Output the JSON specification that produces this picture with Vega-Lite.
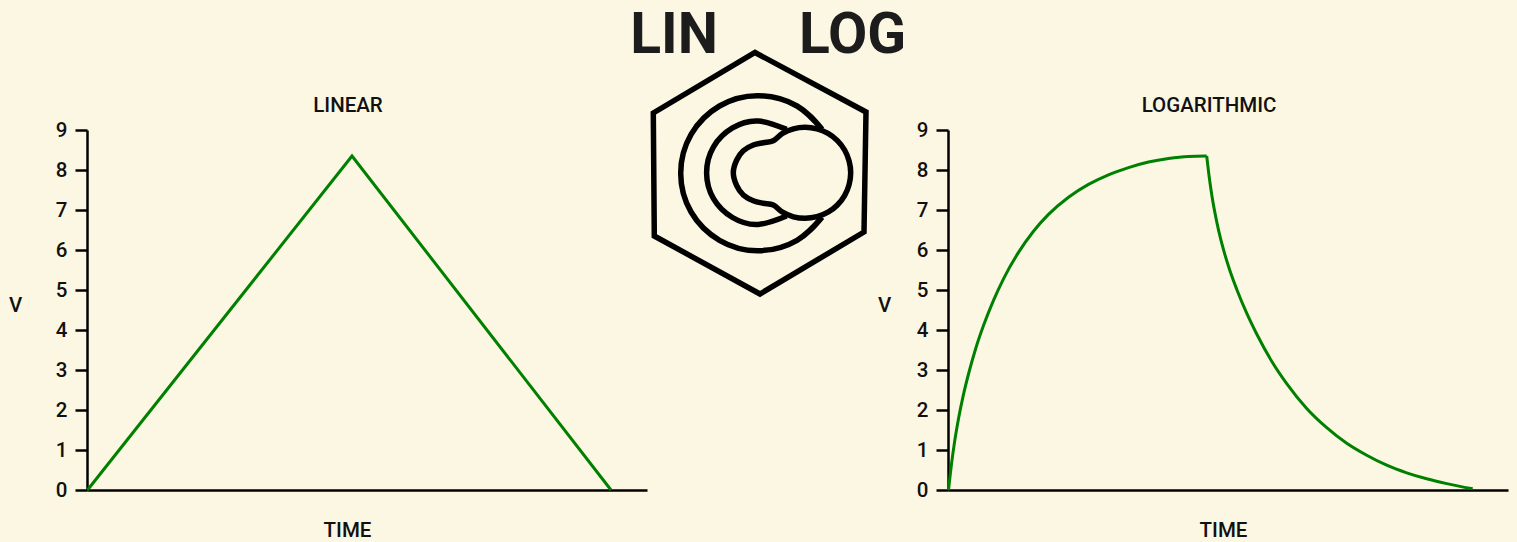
{
"$schema":"https://vega.github.io/schema/vega-lite/v6.json",
"background":"#fcf7e3",
"padding":{"left":8,"top":7,"right":10,"bottom":3},
"spacing":0,
"bounds":"flush",
"config":{
"view":{"stroke":null},
"font":"Roboto",
"title":{"fontSize":20.5,"fontWeight":500,"color":"#111111","font":"Roboto"},
"axis":{"grid":false,"domainColor":"#000000","domainWidth":2.5,"tickColor":"#000000","tickWidth":2.5,"tickSize":12,"labelFontSize":20.5,"labelFontWeight":500,"labelColor":"#111111","labelPadding":8,"titleFontSize":20.5,"titleFontWeight":500,"titleColor":"#111111","labelFont":"Roboto","titleFont":"Roboto"}
},
"datasets":{
"linear":[{"time":0.5,"v":0},{"time":265,"v":8.35},{"time":524,"v":0}],
"log":[{"p":"rise","time":0.5,"v":0},{"p":"rise","time":3.5,"v":0.65},{"p":"rise","time":6.5,"v":1.19},{"p":"rise","time":10.5,"v":1.78},{"p":"rise","time":15.5,"v":2.39},{"p":"rise","time":20.5,"v":2.9},{"p":"rise","time":27.5,"v":3.52},{"p":"rise","time":35.5,"v":4.11},{"p":"rise","time":45.5,"v":4.74},{"p":"rise","time":55.5,"v":5.28},{"p":"rise","time":70.5,"v":5.94},{"p":"rise","time":85.5,"v":6.47},{"p":"rise","time":100.5,"v":6.89},{"p":"rise","time":120.5,"v":7.32},{"p":"rise","time":140.5,"v":7.64},{"p":"rise","time":160.5,"v":7.88},{"p":"rise","time":180.5,"v":8.06},{"p":"rise","time":200.5,"v":8.2},{"p":"rise","time":220.5,"v":8.29},{"p":"rise","time":240.5,"v":8.34},{"p":"rise","time":258.7,"v":8.35},
{"p":"fall","time":258.7,"v":8.35},{"p":"fall","time":260.7,"v":7.92},{"p":"fall","time":263.7,"v":7.39},{"p":"fall","time":266.7,"v":6.96},{"p":"fall","time":270.7,"v":6.48},{"p":"fall","time":275.7,"v":5.99},{"p":"fall","time":281.7,"v":5.5},{"p":"fall","time":288.7,"v":5.02},{"p":"fall","time":298.7,"v":4.42},{"p":"fall","time":308.7,"v":3.9},{"p":"fall","time":323.7,"v":3.22},{"p":"fall","time":338.7,"v":2.66},{"p":"fall","time":358.7,"v":2.04},{"p":"fall","time":378.7,"v":1.56},{"p":"fall","time":398.7,"v":1.17},{"p":"fall","time":418.7,"v":0.87},{"p":"fall","time":438.7,"v":0.62},{"p":"fall","time":458.7,"v":0.43},{"p":"fall","time":478.7,"v":0.28},{"p":"fall","time":498.7,"v":0.16},{"p":"fall","time":524.7,"v":0.03}],
"hex":[{"u":108,"w":437.5,"o":0},{"u":219,"w":378,"o":1},{"u":217,"w":258,"o":2},{"u":113,"w":196,"o":3},{"u":7.3,"w":254,"o":4},{"u":6.3,"w":377,"o":5}],
"arcs":[
{"s":"a","o":0,"u":175.1,"w":360.7},{"s":"a","o":1,"u":150,"w":384},{"s":"a","o":2,"u":111.2,"w":394.3},{"s":"a","o":3,"u":72.5,"w":384},{"s":"a","o":4,"u":44.1,"w":355.6},{"s":"a","o":5,"u":33.7,"w":316.8},{"s":"a","o":6,"u":44.1,"w":278},{"s":"a","o":7,"u":72.5,"w":249.7},{"s":"a","o":8,"u":111.2,"w":239.3},{"s":"a","o":9,"u":150,"w":249.7},{"s":"a","o":10,"u":175.1,"w":272.9},
{"s":"b","o":0,"u":139.6,"w":360.6},{"s":"b","o":1,"u":111.3,"w":369},{"s":"b","o":2,"u":85.5,"w":362.1},{"s":"b","o":3,"u":66.5,"w":343.2},{"s":"b","o":4,"u":59.6,"w":317.3},{"s":"b","o":5,"u":66.5,"w":291.4},{"s":"b","o":6,"u":85.5,"w":272.5},{"s":"b","o":7,"u":111.3,"w":265.6},{"s":"b","o":8,"u":139.6,"w":274}
],
"toggle":[
{"o":0,"u":135.5,"w":356.6},{"o":1,"u":146.4,"w":361.2},{"o":2,"u":158.2,"w":362.7},{"o":3,"u":170,"w":361.1},{"o":4,"u":181,"w":356.6},{"o":5,"u":190.4,"w":349.4},{"o":6,"u":197.6,"w":340},{"o":7,"u":202.1,"w":329},{"o":8,"u":203.7,"w":317.2},{"o":9,"u":202.1,"w":305.4},{"o":10,"u":197.6,"w":294.4},{"o":11,"u":190.4,"w":285},{"o":12,"u":181,"w":277.8},{"o":13,"u":170,"w":273.3},{"o":14,"u":158.2,"w":271.7},{"o":15,"u":146.4,"w":273.2},{"o":16,"u":135.5,"w":277.8},{"o":17,"u":126.3,"w":285},{"o":18,"u":116.3,"w":286.7},{"o":19,"u":106.3,"w":289.3},{"o":20,"u":96.3,"w":295},{"o":21,"u":89.7,"w":304.3},{"o":22,"u":86.3,"w":317.3},{"o":23,"u":89.7,"w":330},{"o":24,"u":96.3,"w":339.3},{"o":25,"u":106.3,"w":345},{"o":26,"u":116.3,"w":347.3},{"o":27,"u":126.3,"w":349.3}
],
"words":[{"label":"LIN","u":27,"w":437},{"label":"LOG","u":205.5,"w":437}]
},
"hconcat":[
{"width":560,"height":360,"title":{"text":"LINEAR","anchor":"middle","dx":-19,"offset":4},
"data":{"name":"linear"},
"mark":{"type":"line","color":"#008000","strokeWidth":3,"clip":false},
"encoding":{
"x":{"field":"time","type":"quantitative","scale":{"domain":[0,560],"nice":false},"axis":{"title":"TIME","ticks":false,"labels":false,"titleX":260,"titleY":40,"titleBaseline":"middle"}},
"y":{"field":"v","type":"quantitative","scale":{"domain":[0,9],"nice":false},"axis":{"title":"V","titleAngle":0,"titleX":-72,"titleY":175,"titleBaseline":"middle","values":[0,1,2,3,4,5,6,7,8,9]}}
}},
{"width":301,"height":360,
"layer":[
{"data":{"name":"hex"},"mark":{"type":"line","interpolate":"linear-closed","color":"#000000","strokeWidth":5.5,"clip":false},"encoding":{"x":{"field":"u","type":"quantitative","scale":{"domain":[0,301],"nice":false},"axis":null},"y":{"field":"w","type":"quantitative","scale":{"domain":[0,360],"nice":false},"axis":null},"order":{"field":"o"}}},
{"data":{"name":"arcs"},"mark":{"type":"line","interpolate":"natural","color":"#000000","strokeWidth":5.5,"clip":false},"encoding":{"x":{"field":"u","type":"quantitative"},"y":{"field":"w","type":"quantitative"},"detail":{"field":"s"},"order":{"field":"o"}}},
{"data":{"name":"toggle"},"mark":{"type":"line","interpolate":"cardinal-closed","color":"#000000","strokeWidth":5.5,"clip":false},"encoding":{"x":{"field":"u","type":"quantitative"},"y":{"field":"w","type":"quantitative"},"order":{"field":"o"}}},
{"data":{"name":"words"},"mark":{"type":"text","font":"Roboto","fontWeight":"bold","fontSize":57,"color":"#1c1c1c","align":"center","baseline":"alphabetic","clip":false},"encoding":{"x":{"field":"u","type":"quantitative"},"y":{"field":"w","type":"quantitative"},"text":{"field":"label"}}}
]},
{"width":560,"height":360,"title":{"text":"LOGARITHMIC","anchor":"middle","dx":-19,"offset":4},
"data":{"name":"log"},
"mark":{"type":"line","color":"#008000","strokeWidth":3,"interpolate":"monotone","clip":false},
"encoding":{
"x":{"field":"time","type":"quantitative","scale":{"domain":[0,560],"nice":false},"axis":{"title":"TIME","ticks":false,"labels":false,"titleX":275,"titleY":40,"titleBaseline":"middle"}},
"y":{"field":"v","type":"quantitative","scale":{"domain":[0,9],"nice":false},"axis":{"title":"V","titleAngle":0,"titleX":-64,"titleY":175,"titleBaseline":"middle","values":[0,1,2,3,4,5,6,7,8,9]}},
"detail":{"field":"p"},
"order":{"field":"time"}
}}
]
}
